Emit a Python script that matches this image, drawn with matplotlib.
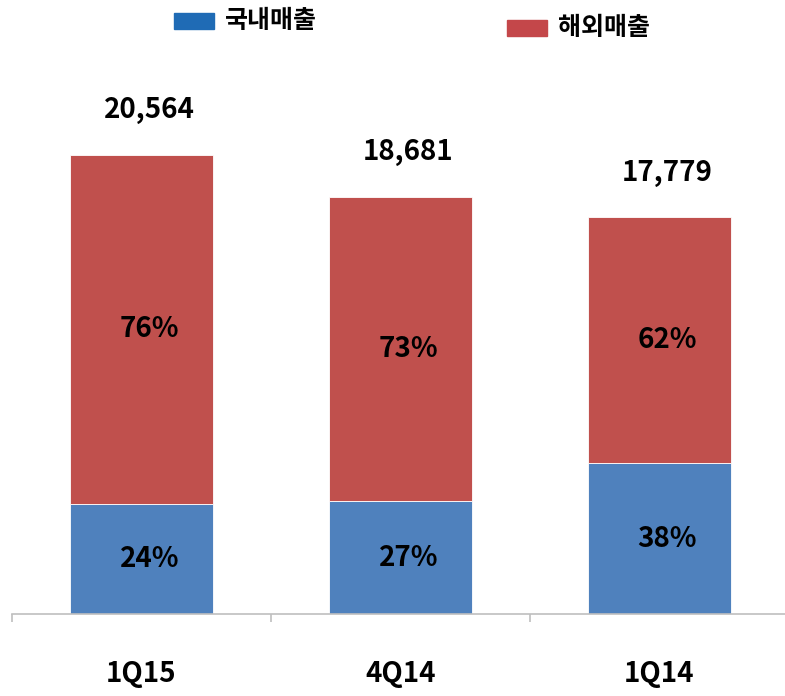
import numpy as np
import matplotlib
matplotlib.use('Agg')
import matplotlib.pyplot as plt
from matplotlib.patches import Rectangle

plt.rcParams['font.family'] = ['Noto Sans CJK KR', 'DejaVu Sans']
plt.rcParams['font.weight'] = 'bold'

# 데이터
categories = ['1Q15', '4Q14', '1Q14']
totals = [20564, 18681, 17779]
domestic_pct = [24, 27, 38]
overseas_pct = [76, 73, 62]
legend_labels = ['국내매출', '해외매출']

totals_arr = np.array(totals, dtype=float)
domestic = totals_arr * np.array(domestic_pct) / 100
overseas = totals_arr - domestic

W, H = 785, 696
fig = plt.figure(figsize=(W / 100, H / 100), dpi=100)

# 축 위치 (픽셀 기준)
x0, x1 = 12, 789
y_base, y_top = 614, 60
ax = fig.add_axes([x0 / W, (H - y_base) / H, (x1 - x0) / W, (y_base - y_top) / H])

blue = '#4F81BD'
red = '#C0504D'
x = np.arange(len(categories))
ax.bar(x, domestic, width=0.55, color=blue, edgecolor='white', linewidth=0.6)
ax.bar(x, overseas, width=0.55, bottom=domestic, color=red, edgecolor='white', linewidth=0.6)

ax.set_xlim(-0.5, 2.5)
ax.set_ylim(0, (y_base - y_top) * 44.8)

for i in range(len(categories)):
    ax.text(x[i] + 0.03, domestic[i] / 2, f'{domestic_pct[i]}%', ha='center', va='center',
            fontsize=20, fontweight='bold', color='black')
    ax.text(x[i] + 0.03, domestic[i] + overseas[i] / 2, f'{overseas_pct[i]}%', ha='center', va='center',
            fontsize=20, fontweight='bold', color='black')
    ax.annotate(f'{totals[i]:,}', (x[i] + 0.03, totals[i]), xytext=(0, 22), textcoords='offset points',
                ha='center', va='bottom', fontsize=20, fontweight='bold', color='black')

for s in ['top', 'right', 'left']:
    ax.spines[s].set_visible(False)
ax.spines['bottom'].set_color('#BFBFBF')
ax.spines['bottom'].set_linewidth(1.2)
ax.set_yticks([])
ax.set_xticks(x)
ax.set_xticklabels(categories, fontsize=20, fontweight='bold')
ax.tick_params(axis='x', which='major', length=0, pad=33)
ax.set_xticks([-0.5, 0.5, 1.5, 2.5], minor=True)
ax.tick_params(axis='x', which='minor', length=6, color='#BFBFBF', width=1.2)

# 범례 (수동 배치)
leg_items = [(174, 13, '#1F6BB5', legend_labels[0]), (507, 20, '#C4474A', legend_labels[1])]
for px, py, c, lab in leg_items:
    fig.patches.append(Rectangle((px / W, (H - py - 16) / H), 40 / W, 16 / H,
                                 transform=fig.transFigure, color=c))
    fig.text((px + 51) / W, (H - py - 8) / H, lab, ha='left', va='center',
             fontsize=18, fontweight='bold')

fig.savefig('out.png', dpi=100)
